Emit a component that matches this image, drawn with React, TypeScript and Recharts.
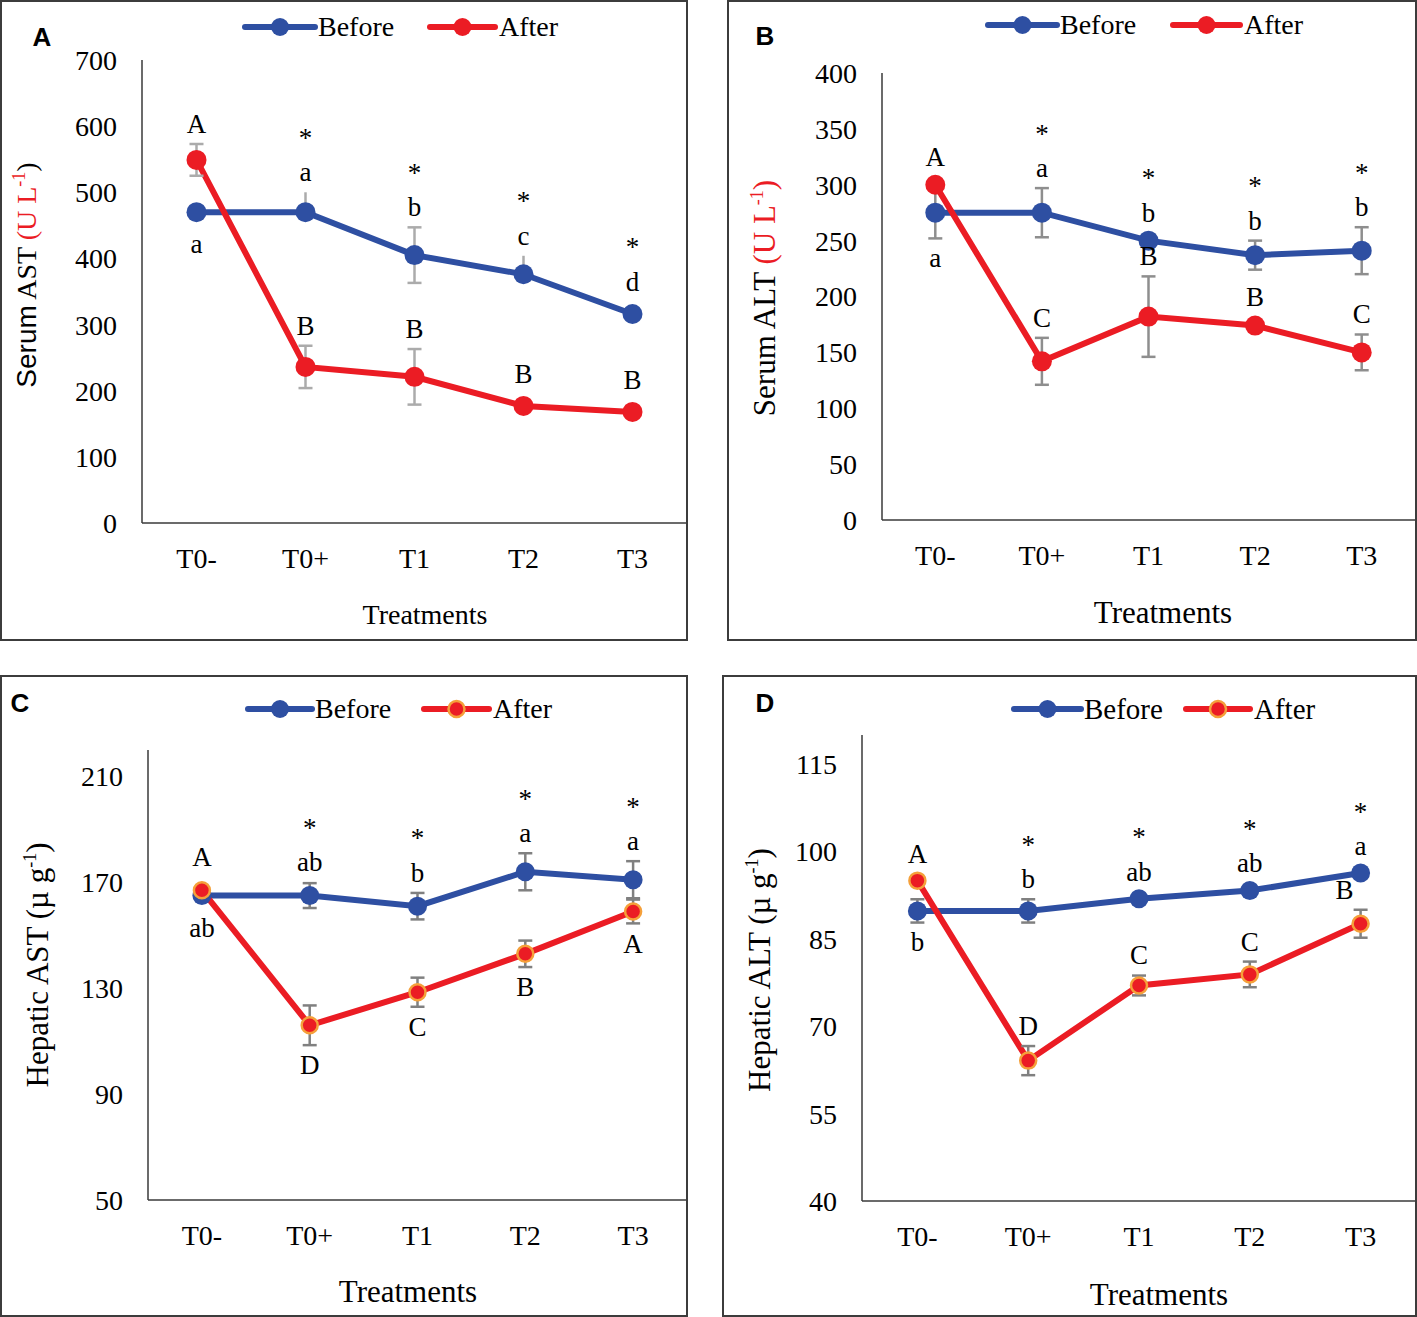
import React from 'react';
import { LineChart, Line, XAxis, YAxis, ErrorBar, LabelList, Label } from 'recharts';

// ---------- shared ----------
const categories = ['T0-', 'T0+', 'T1', 'T2', 'T3'];

// ---------- Panel A : Serum AST ----------
const serumAstBefore = [470, 470, 405, 376, 316];
const serumAstAfter = [549, 236, 221, 177, 168];
const serumAstBeforeErr: any[] = [0, [0, 30], 42, [0, 28], 0];
const serumAstBeforeErrCapped = [true, false, true, false, true];
const serumAstAfterErr: any[] = [24, 32, 42, 0, 0];
const serumAstBeforeLetters = ['a', 'a', 'b', 'c', 'd'];
const serumAstAfterLetters = ['A', 'B', 'B', 'B', 'B'];
const serumAstStars = ['', '*', '*', '*', '*'];
const serumAstTicks = [0, 100, 200, 300, 400, 500, 600, 700];

// ---------- Panel B : Serum ALT ----------
const serumAltBefore = [275, 275, 250, 237, 241];
const serumAltAfter = [300, 142, 182, 174, 150];
const serumAltBeforeErr: any[] = [23, 22, 0, 13, 21];
const serumAltAfterErr: any[] = [0, 21, 36, 0, 16];
const serumAltBeforeLetters = ['a', 'a', 'b', 'b', 'b'];
const serumAltAfterLetters = ['A', 'C', 'B', 'B', 'C'];
const serumAltStars = ['', '*', '*', '*', '*'];
const serumAltTicks = [0, 50, 100, 150, 200, 250, 300, 350, 400];

// ---------- Panel C : Hepatic AST ----------
const hepAstBefore = [165, 165, 161, 174, 171];
const hepAstAfter = [167, 116, 128.5, 143, 159];
const hepAstBeforeErr: any[] = [0, 4.7, 5, 7, 7];
const hepAstAfterErr: any[] = [0, 7.5, 5.5, 5, 4.5];
const hepAstBeforeLetters = ['ab', 'ab', 'b', 'a', 'a'];
const hepAstAfterLetters = ['A', 'D', 'C', 'B', 'A'];
const hepAstStars = ['', '*', '*', '*', '*'];
const hepAstTicks = [50, 90, 130, 170, 210];

// ---------- Panel D : Hepatic ALT ----------
const hepAltBefore = [89.8, 89.8, 91.9, 93.3, 96.3];
const hepAltAfter = [95, 64.1, 77, 78.9, 87.6];
const hepAltBeforeErr: any[] = [2, 2, 0, 0, 0];
const hepAltAfterErr: any[] = [0, 2.5, 1.7, 2.2, 2.4];
const hepAltBeforeLetters = ['b', 'b', 'ab', 'ab', 'a'];
const hepAltAfterLetters = ['A', 'D', 'C', 'C', 'B'];
const hepAltStars = ['', '*', '*', '*', '*'];
const hepAltTicks = [40, 55, 70, 85, 100, 115];

// ---------- styles ----------
const BLUE = '#2E4FA2';
const RED = '#EB1C24';
const ORANGE = '#F5A03A';
const SERIF = '"Liberation Serif", "Times New Roman", serif';
const SANS = '"Liberation Sans", Arial, sans-serif';
const AXIS_COLOR = '#3a3a3a';
const Y_AXIS_W = 60;
const X_AXIS_H = 60;

type Side = 'above' | 'below';

interface PanelCfg {
  id: string;
  left: number;
  top: number;
  width: number;
  height: number;
  plot: { left: number; top: number; right: number; bottom: number };
  domain: [number, number];
  ticks: number[];
  before: number[];
  after: number[];
  beforeErr: any[];
  beforeErrCapped?: boolean[];
  afterErr: any[];
  beforeLetters: string[];
  afterLetters: string[];
  beforeSides: Side[];
  afterSides: Side[];
  afterDx?: number[];
  stars: string[];
  yTitle: React.ReactNode;
  yTitlePos: [number, number];
  titleSize: number;
  xTitlePos: [number, number];
  legend: { y: number; b0: number; b1: number; a0: number; a1: number; fs: number };
  letterPos: [number, number];
  markerR: number;
  afterOutline: boolean;
  errColor: string;
  minGap: number;
  pad: number;
}

function errPart(e: any, side: Side) {
  if (Array.isArray(e)) return side === 'above' ? e[1] : e[0];
  return e || 0;
}

function makePointLabel(
  letters: string[],
  sides: Side[],
  stars: string[] | null,
  errs: any[],
  pxPerUnit: number,
  minGap: number,
  pad: number,
  dxs?: number[]
) {
  return (props: any) => {
    const index: number = props.index;
    const vb = props.viewBox || {};
    const x = props.x ?? vb.x;
    const y = props.y ?? vb.y;
    if (x == null || y == null || index == null) return null;
    const side = sides[index];
    const errPx = errPart(errs[index], side) * pxPerUnit;
    const gap = Math.max(minGap, errPx + pad);
    const cy = side === 'above' ? y - gap : y + gap;
    const fs = 27;
    const dx = dxs ? dxs[index] || 0 : 0;
    const star = stars ? stars[index] : '';
    return (
      <g>
        <text x={x + dx} y={cy + 0.33 * fs} textAnchor="middle" fontFamily={SERIF} fontSize={fs} fill="#000">
          {letters[index]}
        </text>
        {star ? (
          <text x={x + dx} y={cy - 39 + 0.5 * fs} textAnchor="middle" fontFamily={SERIF} fontSize={fs} fill="#000">
            {star}
          </text>
        ) : null}
      </g>
    );
  };
}

function Panel({ cfg }: { cfg: PanelCfg }) {
  const { plot } = cfg;
  const plotW = plot.right - plot.left;
  const plotH = plot.bottom - plot.top;
  const pxPerUnit = plotH / (cfg.domain[1] - cfg.domain[0]);
  const capped = cfg.beforeErrCapped || categories.map(() => true);
  const data = categories.map((c, i) => ({
    cat: c,
    before: cfg.before[i],
    after: cfg.after[i],
    beforeE: cfg.before[i],
    afterE: cfg.after[i],
    beforeErrCap: capped[i] ? cfg.beforeErr[i] : 0,
    beforeErrNoCap: capped[i] ? 0 : cfg.beforeErr[i],
    afterErr: cfg.afterErr[i],
  }));
  const margin = {
    left: plot.left - Y_AXIS_W,
    top: plot.top,
    right: cfg.width - plot.right,
    bottom: cfg.height - plot.bottom - X_AXIS_H,
  };
  const tickStyle = { fontSize: 28, fontFamily: SERIF, fill: '#000' };
  const ts = cfg.titleSize;

  const yTitleContent = () => (
    <text
      transform={`rotate(-90 ${cfg.yTitlePos[0]} ${cfg.yTitlePos[1]})`}
      x={cfg.yTitlePos[0]}
      y={cfg.yTitlePos[1] + 0.33 * ts}
      textAnchor="middle"
      fontFamily={SERIF}
      fontSize={ts}
      fill="#000"
    >
      {cfg.yTitle}
    </text>
  );
  const xTitleContent = () => (
    <text
      x={cfg.xTitlePos[0]}
      y={cfg.xTitlePos[1] + 0.33 * ts}
      textAnchor="middle"
      fontFamily={SERIF}
      fontSize={ts}
      fill="#000"
    >
      Treatments
    </text>
  );

  const afterDot = cfg.afterOutline
    ? { r: cfg.markerR - 1.5, fill: RED, stroke: ORANGE, strokeWidth: 2.5 }
    : { r: cfg.markerR, fill: RED, stroke: RED, strokeWidth: 0 };
  const beforeDot = { r: cfg.markerR, fill: BLUE, stroke: BLUE, strokeWidth: 0 };
  const lg = cfg.legend;

  return (
    <div
      style={{
        position: 'absolute',
        left: cfg.left,
        top: cfg.top,
        width: cfg.width,
        height: cfg.height,
      }}
    >
      <LineChart width={cfg.width} height={cfg.height} data={data} margin={margin}>
        <XAxis
          dataKey="cat"
          height={X_AXIS_H}
          tickLine={false}
          tickSize={0}
          tickMargin={25}
          tick={tickStyle}
          interval={0}
          padding={{ left: plotW / 10, right: plotW / 10 }}
          axisLine={{ stroke: AXIS_COLOR, strokeWidth: 1.5 }}
          label={<Label content={xTitleContent} />}
        />
        <YAxis
          width={Y_AXIS_W}
          domain={cfg.domain}
          ticks={cfg.ticks}
          allowDataOverflow
          interval={0}
          tickLine={false}
          tickSize={0}
          tickMargin={25}
          tick={tickStyle}
          axisLine={{ stroke: AXIS_COLOR, strokeWidth: 1.5 }}
          label={<Label content={yTitleContent} />}
        />
        <Line
          type="linear"
          dataKey="before"
          stroke={BLUE}
          strokeWidth={6}
          dot={beforeDot}
          activeDot={false}
          isAnimationActive={false}
        />
        <Line
          type="linear"
          dataKey="beforeE"
          stroke="none"
          strokeWidth={0}
          dot={false}
          activeDot={false}
          isAnimationActive={false}
        >
          <ErrorBar dataKey="beforeErrCap" width={7} strokeWidth={2.5} stroke={cfg.errColor} direction="y" />
          <ErrorBar dataKey="beforeErrNoCap" width={0} strokeWidth={2.5} stroke={cfg.errColor} direction="y" />
        </Line>
        <Line
          type="linear"
          dataKey="after"
          stroke={RED}
          strokeWidth={6}
          dot={afterDot}
          activeDot={false}
          isAnimationActive={false}
        />
        <Line
          type="linear"
          dataKey="afterE"
          stroke="none"
          strokeWidth={0}
          dot={false}
          activeDot={false}
          isAnimationActive={false}
        >
          <ErrorBar dataKey="afterErr" width={7} strokeWidth={2.5} stroke={cfg.errColor} direction="y" />
          <LabelList
            content={makePointLabel(
              cfg.afterLetters,
              cfg.afterSides,
              null,
              cfg.afterErr,
              pxPerUnit,
              cfg.minGap,
              cfg.pad,
              cfg.afterDx
            )}
          />
        </Line>
        <Line
          type="linear"
          dataKey="beforeE"
          stroke="none"
          strokeWidth={0}
          dot={false}
          activeDot={false}
          isAnimationActive={false}
        >
          <LabelList
            content={makePointLabel(
              cfg.beforeLetters,
              cfg.beforeSides,
              cfg.stars,
              cfg.beforeErr,
              pxPerUnit,
              cfg.minGap,
              cfg.pad
            )}
          />
        </Line>
      </LineChart>
      {/* legend + panel letter */}
      <svg
        width={cfg.width}
        height={cfg.height}
        style={{ position: 'absolute', left: 0, top: 0, pointerEvents: 'none' }}
      >
        <line x1={lg.b0} x2={lg.b1} y1={lg.y} y2={lg.y} stroke={BLUE} strokeWidth={6} strokeLinecap="round" />
        <circle cx={(lg.b0 + lg.b1) / 2} cy={lg.y} r={9} fill={BLUE} />
        <text x={lg.b1 + 3} y={lg.y + 0.33 * lg.fs} fontFamily={SERIF} fontSize={lg.fs} fill="#000">
          Before
        </text>
        <line x1={lg.a0} x2={lg.a1} y1={lg.y} y2={lg.y} stroke={RED} strokeWidth={6} strokeLinecap="round" />
        {cfg.afterOutline ? (
          <circle cx={(lg.a0 + lg.a1) / 2} cy={lg.y} r={8} fill={RED} stroke={ORANGE} strokeWidth={2.5} />
        ) : (
          <circle cx={(lg.a0 + lg.a1) / 2} cy={lg.y} r={9} fill={RED} />
        )}
        <text x={lg.a1 + 4} y={lg.y + 0.33 * lg.fs} fontFamily={SERIF} fontSize={lg.fs} fill="#000">
          After
        </text>
        <text
          x={cfg.letterPos[0]}
          y={cfg.letterPos[1] + 0.36 * 26}
          textAnchor="middle"
          fontFamily={SANS}
          fontWeight="bold"
          fontSize={26}
          fill="#000"
        >
          {cfg.id}
        </text>
      </svg>
      <div
        style={{
          position: 'absolute',
          left: 0,
          top: 0,
          width: cfg.width,
          height: cfg.height,
          border: '2px solid #3c3c3c',
          boxSizing: 'border-box',
          pointerEvents: 'none',
        }}
      />
    </div>
  );
}

const supStyle = { fontSize: 18 };

const panels: PanelCfg[] = [
  {
    id: 'A',
    left: 0,
    top: 0,
    width: 688,
    height: 641,
    plot: { left: 142, top: 60, right: 687, bottom: 523 },
    domain: [0, 700],
    ticks: serumAstTicks,
    before: serumAstBefore,
    after: serumAstAfter,
    beforeErr: serumAstBeforeErr,
    beforeErrCapped: serumAstBeforeErrCapped,
    afterErr: serumAstAfterErr,
    beforeLetters: serumAstBeforeLetters,
    afterLetters: serumAstAfterLetters,
    beforeSides: ['below', 'above', 'above', 'above', 'above'],
    afterSides: ['above', 'above', 'above', 'above', 'above'],
    stars: serumAstStars,
    yTitle: (
      <>
        <tspan fontFamily={SANS}>Serum</tspan>
        <tspan>{' AST '}</tspan>
        <tspan fill={RED}>(U L</tspan>
        <tspan fill={RED} style={supStyle} dy={-11}>
          -1
        </tspan>
        <tspan dy={11}>)</tspan>
      </>
    ),
    yTitlePos: [27, 275],
    titleSize: 28,
    xTitlePos: [425, 615],
    legend: { y: 27, b0: 245, b1: 315, a0: 430, a1: 495, fs: 28 },
    letterPos: [42, 37],
    markerR: 10,
    afterOutline: false,
    errColor: '#ABABAB',
    minGap: 32,
    pad: 20,
  },
  {
    id: 'B',
    left: 727,
    top: 0,
    width: 690,
    height: 641,
    plot: { left: 155, top: 73, right: 688, bottom: 520 },
    domain: [0, 400],
    ticks: serumAltTicks,
    before: serumAltBefore,
    after: serumAltAfter,
    beforeErr: serumAltBeforeErr,
    afterErr: serumAltAfterErr,
    beforeLetters: serumAltBeforeLetters,
    afterLetters: serumAltAfterLetters,
    beforeSides: ['below', 'above', 'above', 'above', 'above'],
    afterSides: ['above', 'above', 'above', 'above', 'above'],
    stars: serumAltStars,
    yTitle: (
      <>
        <tspan>{'Serum ALT '}</tspan>
        <tspan fill={RED}>(U L</tspan>
        <tspan fill={RED} style={supStyle} dy={-12}>
          -1
        </tspan>
        <tspan fill={RED} dy={12}>
          )
        </tspan>
      </>
    ),
    yTitlePos: [38, 298],
    titleSize: 31,
    xTitlePos: [436, 613],
    legend: { y: 25, b0: 261, b1: 330, a0: 446, a1: 513, fs: 28 },
    letterPos: [38, 36],
    markerR: 10,
    afterOutline: false,
    errColor: '#8E8E8E',
    minGap: 28,
    pad: 20,
  },
  {
    id: 'C',
    left: 0,
    top: 675,
    width: 688,
    height: 642,
    plot: { left: 148, top: 75, right: 687, bottom: 525 },
    domain: [50, 220],
    ticks: hepAstTicks,
    before: hepAstBefore,
    after: hepAstAfter,
    beforeErr: hepAstBeforeErr,
    afterErr: hepAstAfterErr,
    beforeLetters: hepAstBeforeLetters,
    afterLetters: hepAstAfterLetters,
    beforeSides: ['below', 'above', 'above', 'above', 'above'],
    afterSides: ['above', 'below', 'below', 'below', 'below'],
    stars: hepAstStars,
    yTitle: (
      <>
        <tspan>{'Hepatic AST (µ g'}</tspan>
        <tspan style={supStyle} dy={-12}>
          -1
        </tspan>
        <tspan dy={12}>)</tspan>
      </>
    ),
    yTitlePos: [38, 290],
    titleSize: 31,
    xTitlePos: [408, 617],
    legend: { y: 34, b0: 248, b1: 312, a0: 424, a1: 489, fs: 28 },
    letterPos: [20, 28],
    markerR: 9.5,
    afterOutline: true,
    errColor: '#808080',
    minGap: 33,
    pad: 20,
  },
  {
    id: 'D',
    left: 722,
    top: 675,
    width: 695,
    height: 642,
    plot: { left: 140, top: 60, right: 694, bottom: 526 },
    domain: [40, 120],
    ticks: hepAltTicks,
    before: hepAltBefore,
    after: hepAltAfter,
    beforeErr: hepAltBeforeErr,
    afterErr: hepAltAfterErr,
    beforeLetters: hepAltBeforeLetters,
    afterLetters: hepAltAfterLetters,
    beforeSides: ['below', 'above', 'above', 'above', 'above'],
    afterSides: ['above', 'above', 'above', 'above', 'above'],
    afterDx: [0, 0, 0, 0, -16],
    stars: hepAltStars,
    yTitle: (
      <>
        <tspan>{'Hepatic ALT (µ g'}</tspan>
        <tspan style={supStyle} dy={-12}>
          -1
        </tspan>
        <tspan dy={12}>)</tspan>
      </>
    ),
    yTitlePos: [38, 295],
    titleSize: 31,
    xTitlePos: [437, 620],
    legend: { y: 34, b0: 292, b1: 359, a0: 464, a1: 528, fs: 29 },
    letterPos: [43, 28],
    markerR: 9.5,
    afterOutline: true,
    errColor: '#808080',
    minGap: 27,
    pad: 20,
  },
];

export default function App() {
  return (
    <div
      style={{
        position: 'absolute',
        left: 0,
        top: 0,
        width: 1417,
        height: 1317,
        background: '#fff',
        overflow: 'hidden',
      }}
    >
      {panels.map((p) => (
        <Panel key={p.id} cfg={p} />
      ))}
    </div>
  );
}
